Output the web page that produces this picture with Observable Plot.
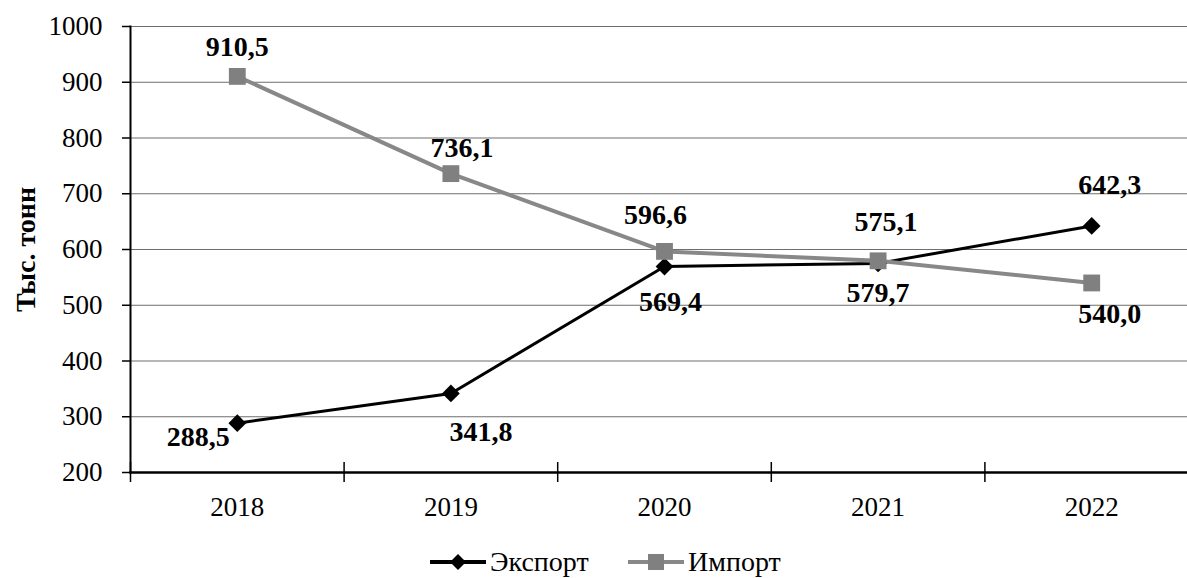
<!DOCTYPE html>
<html>
<head>
<meta charset="utf-8">
<script src="https://cdn.jsdelivr.net/npm/d3@7"></script>
<script src="https://cdn.jsdelivr.net/npm/@observablehq/plot@0.6"></script>
<style>
  html, body { margin: 0; padding: 0; background: #fff; }
  #chart { width: 1187px; height: 578px; position: relative; overflow: hidden; }
  #legend { position: absolute; left: 0; top: 545px; width: 1187px; height: 34px;
            font-family: "Liberation Serif", "Times New Roman", serif; font-size: 28px; color: #000; }
  .item { position: absolute; top: 0; display: flex; align-items: center; height: 34px; }
  .item svg { margin-right: 2px; }
</style>
</head>
<body>
<div id="chart"><div id="legend"></div></div>
<script>
// ---- data ----
const years = [2018, 2019, 2020, 2021, 2022];
const exportValues = [288.5, 341.8, 569.4, 575.1, 642.3];
const importValues = [910.5, 736.1, 596.6, 579.7, 540.0];
const yTicks = [200, 300, 400, 500, 600, 700, 800, 900, 1000];
const seriesNames = ["Экспорт", "Импорт"];
const yTitle = "Тыс. тонн";

// ---- label placement (layout only) ----
const exportLabelOffsets = [[-39, 14], [30, 39], [6, 35], [8, -41], [18, -41]];
const importLabelOffsets = [[0, -29], [11, -26], [-9, -36], [0, 32], [18, 31]];

const fmt = v => v.toFixed(1).replace(".", ",");
const exportData = years.map((y, i) => ({year: y, value: exportValues[i]}));
const importData = years.map((y, i) => ({year: y, value: importValues[i]}));
const boundaries = years.slice(0, -1).map(y => y + 0.5).concat([years[0] - 0.5]);

const FONT = "Liberation Serif";
const GRAY = "#888888";

const labelMarks = [];
exportData.forEach((d, i) => labelMarks.push(Plot.text([d], {
  x: "year", y: "value", text: d => fmt(d.value),
  dx: exportLabelOffsets[i][0], dy: exportLabelOffsets[i][1],
  fontSize: 28, fontWeight: "bold", fill: "#000", fontFamily: FONT
})));
importData.forEach((d, i) => labelMarks.push(Plot.text([d], {
  x: "year", y: "value", text: d => fmt(d.value),
  dx: importLabelOffsets[i][0], dy: importLabelOffsets[i][1],
  fontSize: 28, fontWeight: "bold", fill: "#000", fontFamily: FONT
})));

const chart = Plot.plot({
  width: 1187,
  height: 530,
  marginLeft: 130,
  marginRight: 0,
  marginTop: 26,
  marginBottom: 58,
  style: {fontFamily: FONT, background: "#fff", overflow: "visible"},
  x: {type: "linear", domain: [years[0] - 0.5, years[years.length - 1] + 0.5], range: [130, 1198]},
  y: {domain: [200, 1000]},
  marks: [
    Plot.gridY(yTicks, {stroke: "#6e6e6e", strokeOpacity: 1, strokeWidth: 1}),
    Plot.axisY(yTicks, {tickSize: 8, tickPadding: 20, fontSize: 27, fill: "#000", stroke: "#000", strokeWidth: 1.5, tickFormat: d => String(d), label: null}),
    Plot.axisX(boundaries, {tickSize: 20, dy: -10, tickFormat: () => "", stroke: "#000", strokeWidth: 1.5, label: null}),
    Plot.axisX(years, {tickSize: 0, tickPadding: 24, fontSize: 27, fill: "#000", tickFormat: d => String(d), label: null}),
    Plot.frame({anchor: "left", stroke: "#000", strokeWidth: 2}),
    Plot.frame({anchor: "bottom", stroke: "#000", strokeWidth: 2.5}),
    Plot.text([yTitle], {frameAnchor: "left", textAnchor: "middle", rotate: -90, dx: -104, dy: 0, fontSize: 28, fontWeight: "bold", fill: "#000", fontFamily: FONT}),
    Plot.line(exportData, {x: "year", y: "value", stroke: "#000", strokeWidth: 3}),
    Plot.line(importData, {x: "year", y: "value", stroke: GRAY, strokeWidth: 4}),
    Plot.dot(exportData, {x: "year", y: "value", symbol: "diamond2", r: 8, fill: "#000", stroke: "none"}),
    Plot.dot(importData, {x: "year", y: "value", symbol: "square", r: 9.5, fill: "#808080", stroke: "none"}),
    ...labelMarks
  ]
});
chart.style.position = "absolute";
chart.style.left = "0";
chart.style.top = "0";
document.getElementById("chart").prepend(chart);

// ---- legend ----
const legend = document.getElementById("legend");
const items = [
  {name: seriesNames[0], left: 428, color: "#000", line: "#000", marker: "diamond"},
  {name: seriesNames[1], left: 626, color: "#808080", line: GRAY, marker: "square"}
];
items.forEach(it => {
  const div = document.createElement("div");
  div.className = "item";
  div.style.left = it.left + "px";
  const m = it.marker === "diamond"
    ? `<path d="M30,9 L38,17 L30,25 L22,17 Z" fill="${it.color}"/>`
    : `<rect x="22" y="9" width="16" height="16" fill="${it.color}"/>`;
  div.innerHTML = `<svg width="60" height="34"><line x1="2" x2="58" y1="17" y2="17" stroke="${it.line}" stroke-width="4"/>${m}</svg><span>${it.name}</span>`;
  legend.appendChild(div);
});
</script>
</body>
</html>
